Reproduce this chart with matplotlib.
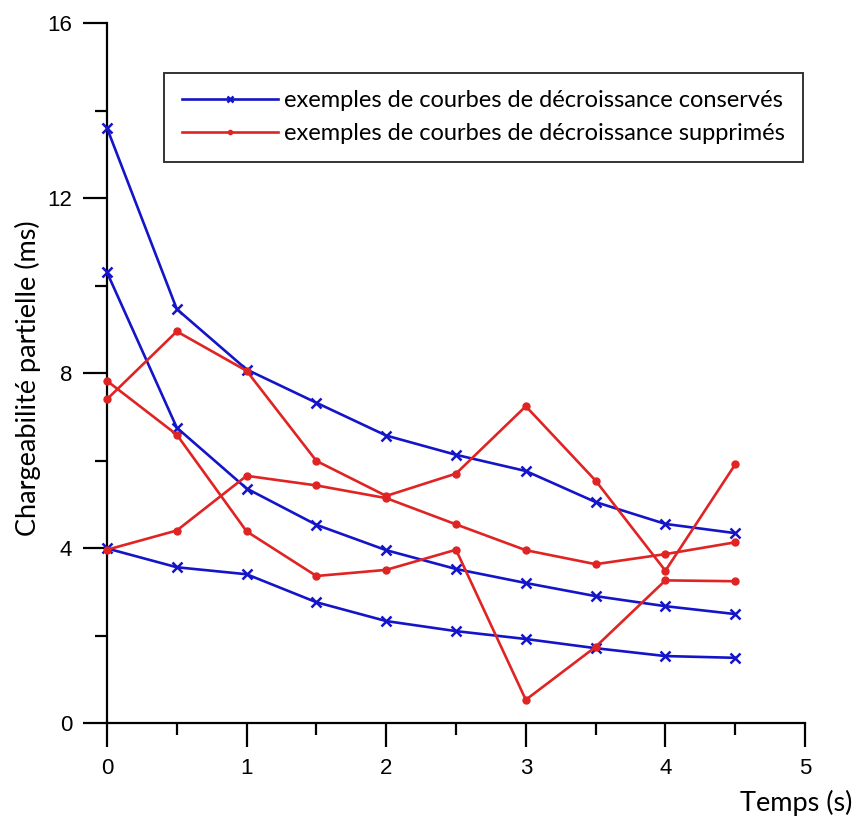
import numpy as np
import matplotlib
matplotlib.use('Agg')
import matplotlib.pyplot as plt

# time axis (s)
temps = [0, 0.5, 1, 1.5, 2, 2.5, 3, 3.5, 4, 4.5]

# courbes conservees (bleu)
cons_1 = [13.6, 9.46, 8.08, 7.32, 6.57, 6.13, 5.76, 5.05, 4.55, 4.34]
cons_2 = [10.3, 6.75, 5.36, 4.53, 3.95, 3.52, 3.20, 2.90, 2.67, 2.49]
cons_3 = [3.99, 3.56, 3.40, 2.76, 2.33, 2.10, 1.92, 1.71, 1.53, 1.49]

# courbes supprimees (rouge)
supp_1 = [7.40, 8.95, 8.05, 5.99, 5.19, 5.70, 7.24, 5.54, 3.48, 5.91]
supp_2 = [7.82, 6.59, 4.38, 3.36, 3.50, 3.96, 0.53, 1.74, 3.26, 3.24]
supp_3 = [3.96, 4.40, 5.65, 5.43, 5.14, 4.54, 3.95, 3.63, 3.86, 4.13]

conserves = [cons_1, cons_2, cons_3]
supprimes = [supp_1, supp_2, supp_3]

label_cons = 'exemples de courbes de décroissance conservés'
label_supp = 'exemples de courbes de décroissance supprimés'

blue = '#1414c8'
red = '#e02323'

fig = plt.figure(figsize=(8.56, 8.17), dpi=100)
ax = fig.add_axes([107/856, 1 - 723/817, 698/856, 700/817])

for i, s in enumerate(conserves):
    ax.plot(temps, s, color=blue, lw=1.9, marker='x', ms=7, mew=1.8,
            clip_on=False, label=label_cons if i == 0 else None, zorder=3)
for i, s in enumerate(supprimes):
    ax.plot(temps, s, color=red, lw=1.9, marker='o', ms=5,
            clip_on=False, label=label_supp if i == 0 else None, zorder=3)

ax.set_xlim(0, 5)
ax.set_ylim(0, 16)
ax.set_xticks([0, 1, 2, 3, 4, 5])
ax.set_xticks(np.arange(0.5, 5, 1), minor=True)
ax.set_yticks([0, 4, 8, 12, 16])
ax.set_yticks([2, 6, 10, 14], minor=True)

for side in ['top', 'right']:
    ax.spines[side].set_visible(False)
for side in ['left', 'bottom']:
    ax.spines[side].set_linewidth(1.6)

ax.tick_params(which='major', direction='out', length=17, width=1.6)
ax.tick_params(which='minor', direction='out', length=8.5, width=1.6)
ax.tick_params(axis='x', labelsize=16, pad=8)
ax.tick_params(axis='y', labelsize=16, pad=8)
for t in ax.get_xticklabels() + ax.get_yticklabels():
    t.set_fontfamily('Liberation Sans')

leg = ax.legend(loc='upper right', bbox_to_anchor=(0.997, 0.929),
                prop={'family': 'Lato', 'size': 17}, handlelength=4.1,
                handletextpad=0.25, borderpad=0.75, labelspacing=0.5,
                fancybox=False, framealpha=1, markerscale=0.6,
                borderaxespad=0)
leg.get_frame().set_edgecolor('#333333')
leg.get_frame().set_linewidth(1.4)

fig.text(28/856, 1 - 378/817, 'Chargeabilité partielle (ms)', rotation=90,
         ha='center', va='center', fontsize=19.5, family='Lato')
fig.text(852/856, 1 - 803/817, 'Temps (s)', ha='right', va='center',
         fontsize=19.5, family='Lato')

fig.savefig('out.png', dpi=100)
